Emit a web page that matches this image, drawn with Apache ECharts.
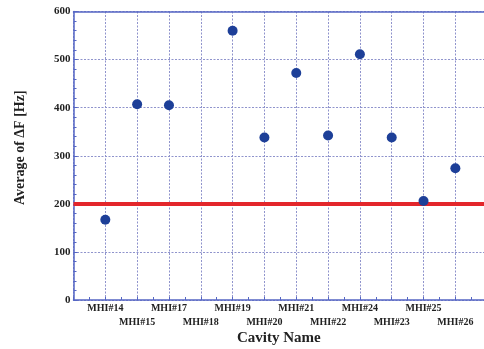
<!DOCTYPE html>
<html>
<head>
<meta charset="utf-8">
<script src="https://cdn.jsdelivr.net/npm/echarts@6/dist/echarts.min.js"></script>
<style>html,body{margin:0;padding:0;background:#fff}#c{width:484px;height:349px}</style>
</head>
<body>
<div id="c"></div>
<script>
var categories = ['MHI#14','MHI#15','MHI#17','MHI#18','MHI#19','MHI#20','MHI#21','MHI#22','MHI#24','MHI#23','MHI#25','MHI#26'];
var avgDeltaF = [167, 407, 405, null, 560, 338, 472, 342, 511, 338, 206, 274];
var thresholdValue = 200;
var yTicks = [0, 100, 200, 300, 400, 500, 600];

var FONT = '"Liberation Serif", "DejaVu Serif", serif';
var AXIS = '#5566c4';
var GRID = '#8f93cc';

var points = [];
for (var i = 0; i < categories.length; i++) {
  if (avgDeltaF[i] != null) points.push([i + 1, avgDeltaF[i]]);
}

var chart = echarts.init(document.getElementById('c'), null, {renderer: 'canvas'});
chart.setOption({
  animation: false,
  backgroundColor: '#fff',
  grid: {left: 73.5, top: 11.5, right: 0, bottom: 49, containLabel: false, outerBoundsMode: 'none'},
  xAxis: [{
    type: 'value', min: 0, max: 12.9, interval: 1,
    name: 'Cavity Name', nameLocation: 'middle', nameGap: 31, nameMoveOverlap: false,
    nameTextStyle: {fontFamily: FONT, fontWeight: 'bold', fontSize: 15, color: '#222'},
    axisLine: {show: true, lineStyle: {color: AXIS, width: 1.5}},
    axisTick: {show: true, inside: true, length: 3, lineStyle: {color: AXIS}},
    minorTick: {show: true, splitNumber: 2, length: 3, lineStyle: {color: AXIS}},
    splitLine: {show: true, lineStyle: {color: GRID, type: [2, 1.5], width: 1}},
    axisLabel: {
      margin: 1, fontFamily: FONT, fontWeight: 'bold', fontSize: 10, color: '#222', lineHeight: 14,
      showMaxLabel: false,
      formatter: function (v) {
        var k = Math.round(v);
        if (k < 1 || k > categories.length) return '';
        return (k % 2 === 0 ? '\n' : '') + categories[k - 1];
      }
    }
  }, {
    type: 'value', position: 'top', min: 0, max: 12.9,
    axisLine: {show: true, lineStyle: {color: AXIS, width: 1.5}},
    axisTick: {show: false}, axisLabel: {show: false}, splitLine: {show: false}
  }],
  yAxis: {
    type: 'value', min: yTicks[0], max: yTicks[yTicks.length - 1], interval: 100,
    name: 'Average of ΔF [Hz]', nameLocation: 'middle', nameGap: 46, nameMoveOverlap: false,
    nameTextStyle: {fontFamily: FONT, fontWeight: 'bold', fontSize: 14, color: '#222', padding: [0, 0, 0, 16]},
    axisLine: {show: true, lineStyle: {color: AXIS, width: 1.5}},
    axisTick: {show: true, inside: true, length: 4, lineStyle: {color: AXIS}},
    minorTick: {show: true, splitNumber: 5, length: 3, lineStyle: {color: AXIS}},
    splitLine: {show: true, lineStyle: {color: GRID, type: [2, 1.5], width: 1}},
    axisLabel: {margin: 3, fontFamily: FONT, fontWeight: 'bold', fontSize: 11, color: '#222'}
  },
  series: [{
    type: 'scatter',
    data: points,
    symbol: 'circle', symbolSize: 10,
    itemStyle: {color: '#1d3f98', opacity: 1},
    z: 5,
    markLine: {
      silent: true, symbol: 'none', label: {show: false},
      lineStyle: {color: '#e3262b', width: 4, type: 'solid', opacity: 1},
      data: [{yAxis: thresholdValue}],
      z: 4
    }
  }]
});
</script>
</body>
</html>
